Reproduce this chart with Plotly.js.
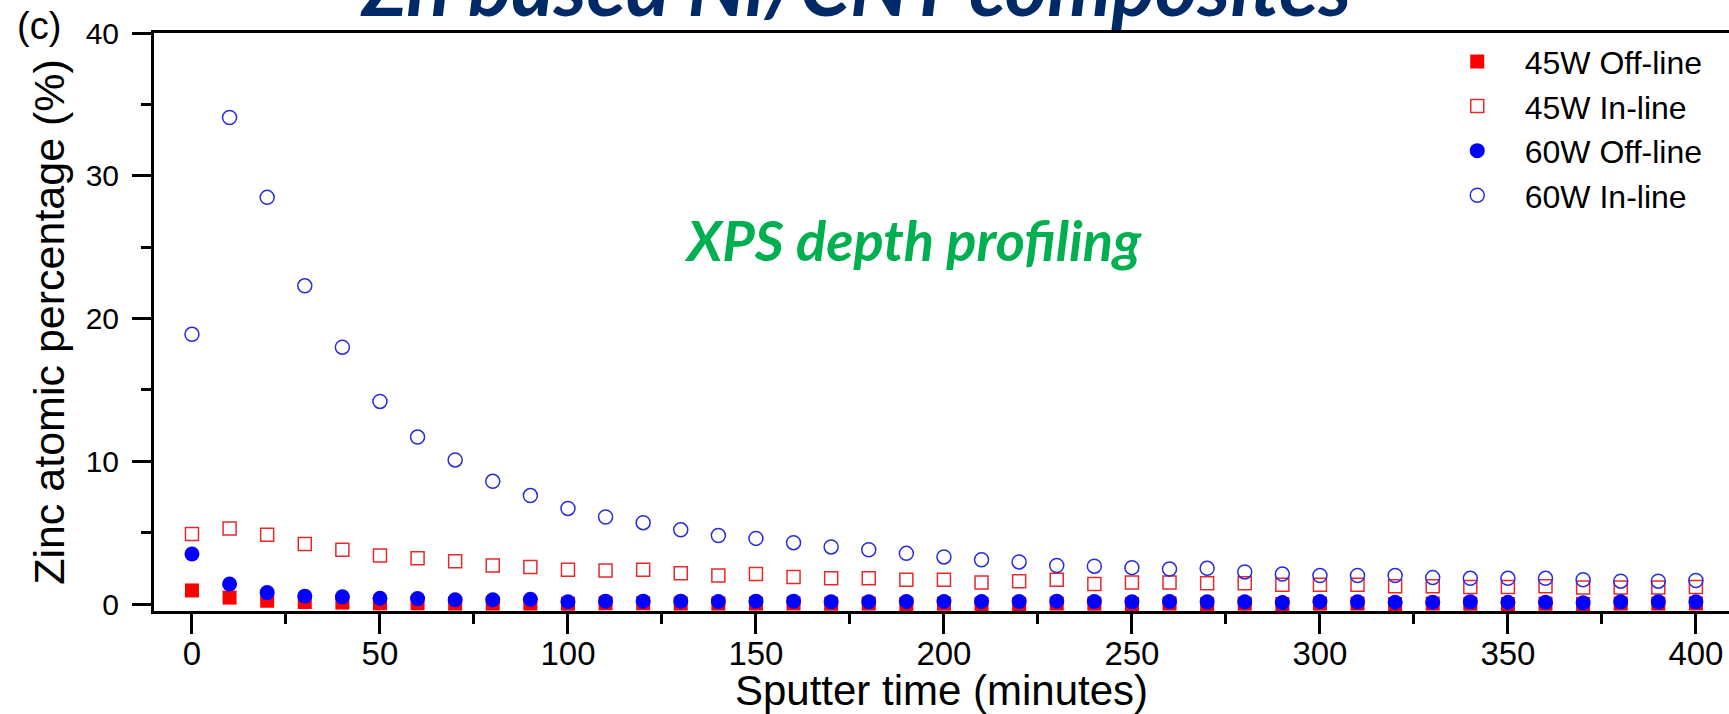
<!DOCTYPE html>
<html>
<head>
<meta charset="utf-8">
<script src="https://cdn.plot.ly/plotly-3.0.1.min.js"></script>
<style>
html, body { margin: 0; padding: 0; background: #ffffff; }
#chart { width: 1729px; height: 714px; }
</style>
</head>
<body>
<div id="chart"></div>
<script>
// Sputter time (minutes)
const sputterTime = [0, 10, 20, 30, 40, 50, 60, 70, 80, 90, 100, 110, 120, 130, 140, 150, 160, 170, 180, 190, 200,
  210, 220, 230, 240, 250, 260, 270, 280, 290, 300, 310, 320, 330, 340, 350, 360, 370, 380, 390, 400];

// Zinc atomic percentage (%)
const offline45 = [0.95, 0.45, 0.23, 0.14, 0.1, 0.05, 0.05, 0.03, 0.03, 0.03, 0.02, 0.05, 0.05, 0.03, 0.03, 0.03, 0.04, 0.02, 0.03, 0.0, 0.02,
  0.0, 0.0, 0.03, 0.02, 0.0, 0.03, 0.0, 0.02, 0.0, 0.03, 0.03, 0.0, 0.03, 0.02, 0.0, 0.02, 0.0, 0.03, 0.03, 0.04];
const inline45 = [4.9, 5.3, 4.85, 4.2, 3.8, 3.4, 3.2, 3.0, 2.7, 2.6, 2.4, 2.35, 2.4, 2.15, 2.0, 2.1, 1.9, 1.8, 1.8, 1.7, 1.7,
  1.5, 1.6, 1.7, 1.4, 1.5, 1.5, 1.45, 1.45, 1.35, 1.35, 1.35, 1.25, 1.25, 1.2, 1.2, 1.25, 1.15, 1.15, 1.15, 1.2];
const offline60 = [3.5, 1.4, 0.8, 0.55, 0.5, 0.4, 0.38, 0.3, 0.3, 0.33, 0.16, 0.2, 0.2, 0.2, 0.18, 0.2, 0.2, 0.16, 0.16, 0.18, 0.18,
  0.18, 0.18, 0.2, 0.18, 0.15, 0.18, 0.15, 0.15, 0.1, 0.18, 0.15, 0.12, 0.12, 0.15, 0.12, 0.12, 0.08, 0.15, 0.15, 0.15];
const inline60 = [18.9, 34.1, 28.5, 22.3, 18.0, 14.2, 11.7, 10.1, 8.6, 7.6, 6.7, 6.1, 5.7, 5.2, 4.8, 4.6, 4.3, 4.0, 3.8, 3.55, 3.3,
  3.1, 2.95, 2.7, 2.65, 2.55, 2.45, 2.5, 2.25, 2.1, 2.0, 2.0, 2.0, 1.85, 1.8, 1.8, 1.8, 1.7, 1.6, 1.6, 1.65];

const seriesNames = ['45W Off-line', '45W In-line', '60W Off-line', '60W In-line'];
const xTickVals = [0, 50, 100, 150, 200, 250, 300, 350, 400];
const yTickVals = [0, 10, 20, 30, 40];

const FONT = 'Liberation Sans, Arial, Helvetica, sans-serif';
const HFONT = 'Lato, Calibri, Open Sans, sans-serif';

const traces = [
  { x: sputterTime, y: offline45, name: seriesNames[0], type: 'scatter', mode: 'markers', cliponaxis: false,
    marker: { symbol: 'square', size: 14, color: '#ff0000', line: { width: 0 } } },
  { x: sputterTime, y: inline45, name: seriesNames[1], type: 'scatter', mode: 'markers', cliponaxis: false,
    marker: { symbol: 'square-open', size: 13, color: '#e8292b', line: { width: 1.5 } } },
  { x: sputterTime, y: offline60, name: seriesNames[2], type: 'scatter', mode: 'markers', cliponaxis: false,
    marker: { symbol: 'circle', size: 15, color: '#0000ff', line: { width: 0 } } },
  { x: sputterTime, y: inline60, name: seriesNames[3], type: 'scatter', mode: 'markers', cliponaxis: false,
    marker: { symbol: 'circle-open', size: 14, color: '#2a2ae0', line: { width: 1.5 } } }
];

const layout = {
  width: 1729, height: 714,
  margin: { l: 154, r: 0, t: 33, b: 103, pad: 0 },
  paper_bgcolor: '#ffffff', plot_bgcolor: '#ffffff',
  font: { family: FONT, color: '#000000' },
  showlegend: true,
  legend: {
    x: 0.810, y: 0.998, xanchor: 'left', yanchor: 'top',
    bgcolor: 'rgba(0,0,0,0)', borderwidth: 0,
    font: { family: FONT, size: 32, color: '#000000' },
    itemwidth: 85, tracegroupgap: 0
  },
  xaxis: {
    range: [-10.1, 408.8], autorange: false,
    showline: true, linewidth: 3, linecolor: '#000000', mirror: true,
    showgrid: false, zeroline: false,
    tickmode: 'array', tickvals: xTickVals,
    ticks: 'outside', ticklen: 20, tickwidth: 3, tickcolor: '#000000',
    ticklabelstandoff: -9,
    minor: { dtick: 25, tick0: 0, ticks: 'outside', ticklen: 10, tickwidth: 3, tickcolor: '#000000', showgrid: false },
    tickfont: { family: FONT, size: 33, color: '#000000' },
    title: { text: 'Sputter time (minutes)', font: { family: FONT, size: 42, color: '#000000' }, standoff: 0 },
    automargin: false
  },
  yaxis: {
    range: [-0.49, 40.02], autorange: false,
    showline: true, linewidth: 3, linecolor: '#000000', mirror: false,
    showgrid: false, zeroline: false,
    tickmode: 'array', tickvals: yTickVals,
    ticks: 'outside', ticklen: 19, tickwidth: 3, tickcolor: '#000000',
    ticklabelstandoff: 7,
    minor: { dtick: 5, tick0: 0, ticks: 'outside', ticklen: 10, tickwidth: 3, tickcolor: '#000000', showgrid: false },
    tickfont: { family: FONT, size: 30, color: '#000000' },
    title: { text: 'Zinc atomic percentage (%)', font: { family: FONT, size: 43, color: '#000000' }, standoff: 8 },
    automargin: false
  },
  annotations: [
    { text: '<b><i>Zn based Ni/CNT composites</i></b>', xref: 'paper', yref: 'paper', x: 0.4457, y: 0.9974,
      xanchor: 'center', yanchor: 'bottom', showarrow: false,
      font: { family: HFONT, size: 81, color: '#002a66' } },
    { text: '<b><i>XPS depth profiling</i></b>', xref: 'paper', yref: 'paper', x: 0.4818, y: 0.581,
      xanchor: 'center', yanchor: 'bottom', showarrow: false,
      font: { family: HFONT, size: 56, color: '#00b050' } },
    { text: '(c)', xref: 'paper', yref: 'paper', x: -0.0733, y: 1.0119,
      xanchor: 'center', yanchor: 'middle', showarrow: false,
      font: { family: FONT, size: 38, color: '#000000' } }
  ]
};

Plotly.newPlot('chart', traces, layout, { staticPlot: true, displayModeBar: false });
</script>
</body>
</html>
